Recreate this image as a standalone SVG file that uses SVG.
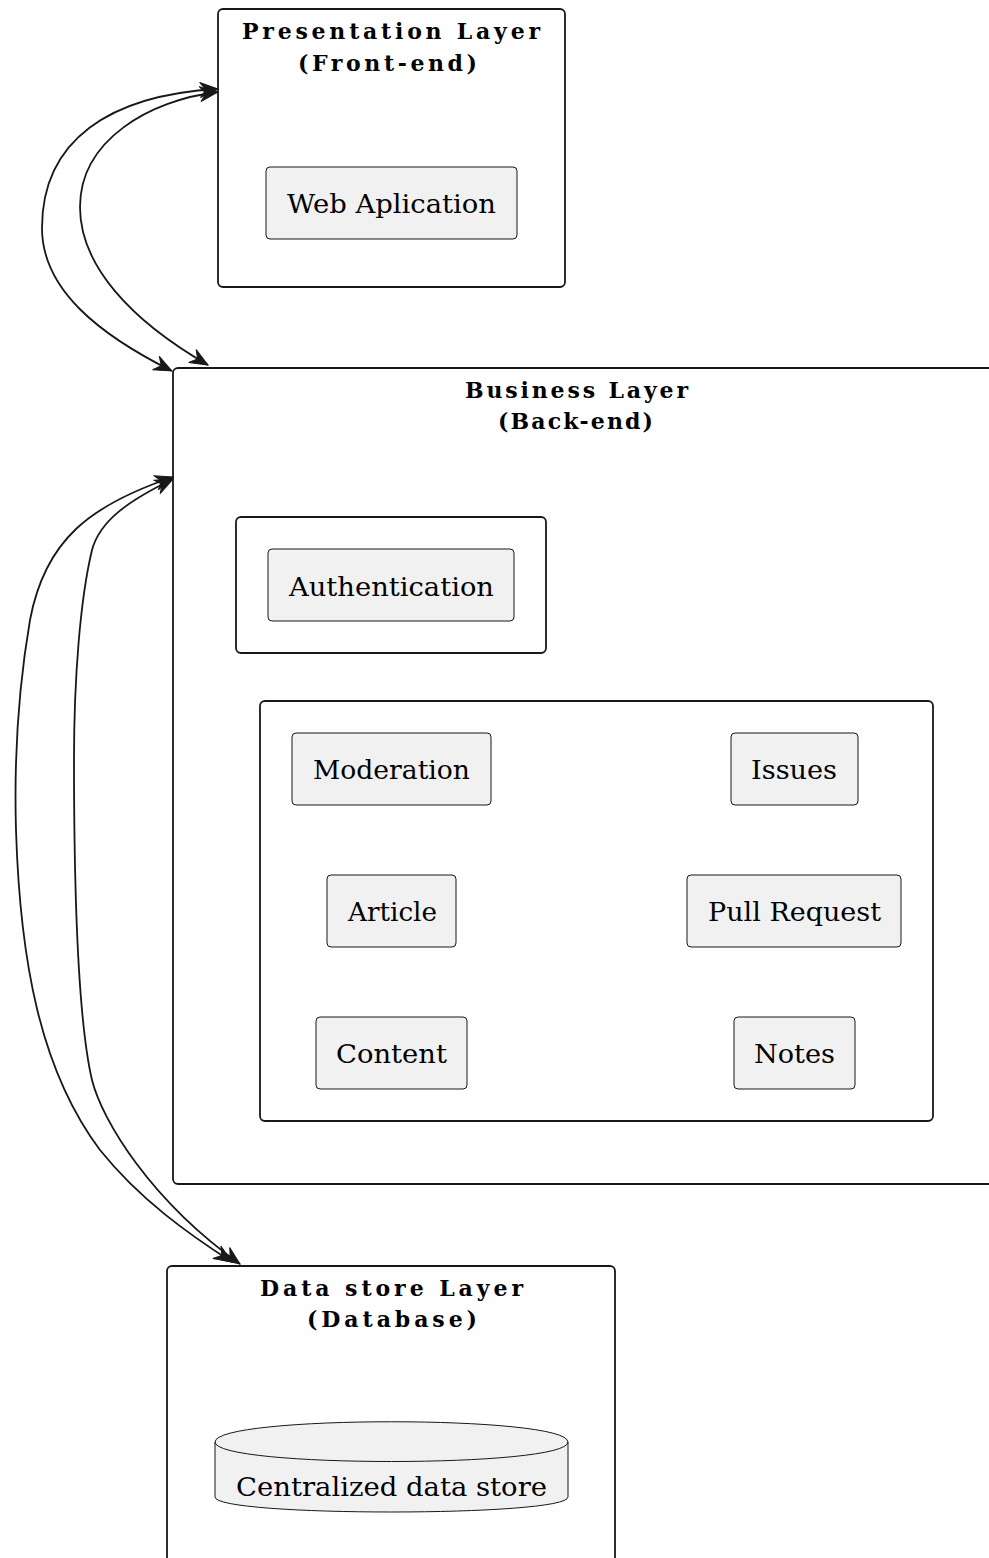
<svg xmlns="http://www.w3.org/2000/svg" width="989" height="1558" viewBox="0 0 989 1558">
  <style>
    .frame { fill: #FFFFFF; stroke: #181818; stroke-width: 1.8; }
    .box { fill: #F1F1F1; stroke: #181818; stroke-width: 1; }
    text { font-family: 'DejaVu Serif', 'Liberation Serif', serif; fill: #000000; }
    .title { font-weight: bold; font-size: 22px; }
    .label { font-size: 26px; }
    .link { fill: none; stroke: #181818; stroke-width: 1.8; marker-start: url(#head); marker-end: url(#head); }
  </style>
  <defs>
    <marker id="head" viewBox="-19 -10 21 20" refX="0" refY="0" markerWidth="21" markerHeight="20" markerUnits="userSpaceOnUse" orient="auto-start-reverse">
      <path d="M0,0 L-18,-7.5 L-12,0 L-18,7.5 Z" fill="#181818" stroke="#181818" stroke-width="1" stroke-linejoin="miter"/>
    </marker>
  </defs>

  <rect width="989" height="1558" fill="#FFFFFF"/>

  <!-- Presentation layer -->
  <g id="presentation">
    <rect class="frame" x="218" y="9" width="347" height="278" rx="5"/>
    <text class="title" x="242" y="39" textLength="298" lengthAdjust="spacing">Presentation Layer</text>
    <text class="title" x="298" y="71" textLength="179" lengthAdjust="spacing">(Front-end)</text>
  </g>
  <g id="web-aplication">
    <rect class="box" x="266" y="167" width="251" height="72" rx="4"/>
    <text class="label" x="287" y="213" textLength="209" lengthAdjust="spacingAndGlyphs">Web Aplication</text>
  </g>

  <!-- Business layer -->
  <g id="business">
    <rect class="frame" x="173" y="368" width="840" height="816" rx="5"/>
    <text class="title" x="465" y="398" textLength="223" lengthAdjust="spacing">Business Layer</text>
    <text class="title" x="498" y="429" textLength="155" lengthAdjust="spacing">(Back-end)</text>
  </g>
  <g id="auth-package">
    <rect class="frame" x="236" y="517" width="310" height="136" rx="5"/>
  </g>
  <g id="authentication">
    <rect class="box" x="268" y="549" width="246" height="72" rx="4"/>
    <text class="label" x="289" y="596" textLength="205" lengthAdjust="spacingAndGlyphs">Authentication</text>
  </g>
  <g id="features-package">
    <rect class="frame" x="260" y="701" width="673" height="420" rx="5"/>
  </g>
  <g id="moderation">
    <rect class="box" x="292" y="733" width="199" height="72" rx="4"/>
    <text class="label" x="313" y="779" textLength="157" lengthAdjust="spacingAndGlyphs">Moderation</text>
  </g>
  <g id="issues">
    <rect class="box" x="731" y="733" width="127" height="72" rx="4"/>
    <text class="label" x="751" y="779" textLength="86" lengthAdjust="spacingAndGlyphs">Issues</text>
  </g>
  <g id="article">
    <rect class="box" x="327" y="875" width="129" height="72" rx="4"/>
    <text class="label" x="348" y="921" textLength="89" lengthAdjust="spacingAndGlyphs">Article</text>
  </g>
  <g id="pull-request">
    <rect class="box" x="687" y="875" width="214" height="72" rx="4"/>
    <text class="label" x="708" y="921" textLength="173" lengthAdjust="spacingAndGlyphs">Pull Request</text>
  </g>
  <g id="content">
    <rect class="box" x="316" y="1017" width="151" height="72" rx="4"/>
    <text class="label" x="336" y="1063" textLength="111" lengthAdjust="spacingAndGlyphs">Content</text>
  </g>
  <g id="notes">
    <rect class="box" x="734" y="1017" width="121" height="72" rx="4"/>
    <text class="label" x="754" y="1063" textLength="81" lengthAdjust="spacingAndGlyphs">Notes</text>
  </g>

  <!-- Data store layer -->
  <g id="datastore">
    <rect class="frame" x="167" y="1266" width="448" height="320" rx="5"/>
    <text class="title" x="260" y="1296" textLength="263" lengthAdjust="spacing">Data store Layer</text>
    <text class="title" x="307" y="1327" textLength="170" lengthAdjust="spacing">(Database)</text>
  </g>
  <g id="central-store">
    <path class="box" d="M215,1442 C215,1415 568,1415 568,1442 L568,1497 C568,1517 215,1517 215,1497 Z"/>
    <path d="M215,1442 C215,1468 568,1468 568,1442" fill="none" stroke="#181818" stroke-width="1"/>
    <text class="label" x="236" y="1496" textLength="311" lengthAdjust="spacingAndGlyphs">Centralized data store</text>
  </g>

  <!-- Connectors -->
  <g id="connectors">
    <path class="link" d="M218,89 C110,95 42,140 42,228 C42,290 100,335 172,371"/>
    <path class="link" d="M218,92 C150,100 80,140 80,207 C80,265 130,320 208,365"/>
    <path class="link" d="M173,477 C90,505 45,540 30,620 C18,690 14,760 16,830 C20,960 40,1070 100,1150 C140,1200 190,1235 232,1262"/>
    <path class="link" d="M173,479 C130,500 100,520 92,550 C80,600 74,680 74,760 C74,900 78,1020 92,1080 C102,1120 150,1200 240,1264"/>
  </g>
</svg>
